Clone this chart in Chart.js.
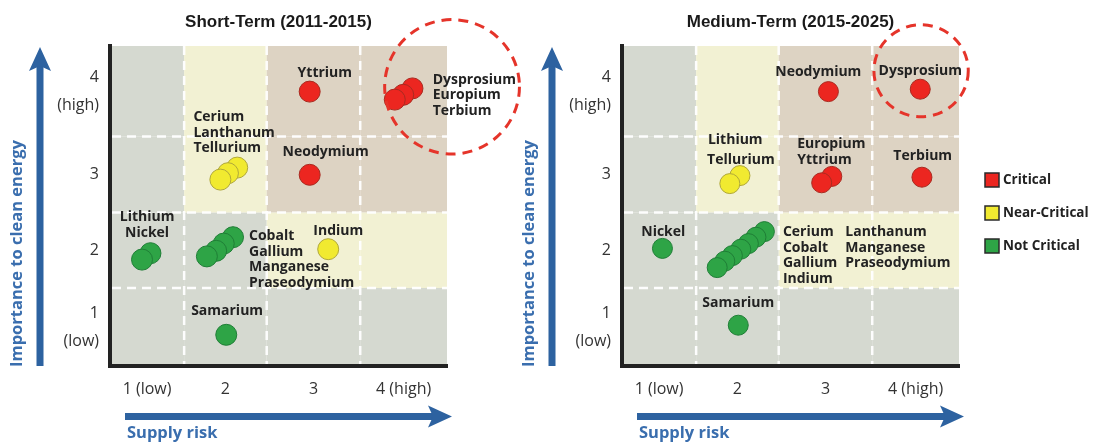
<!DOCTYPE html>
<html>
<head>
<meta charset="utf-8">
<script src="https://cdn.jsdelivr.net/npm/chart.js@4.4.1/dist/chart.umd.min.js"></script>
<style>
  html, body { margin: 0; padding: 0; background: #fff; }
  #wrap { position: relative; width: 1093px; height: 442px; overflow: hidden; }
  #shortChart { position: absolute; left: 0; top: 0; }
  #mediumChart { position: absolute; left: 512px; top: 0; }
</style>
</head>
<body>
<div id="wrap">
  <canvas id="shortChart" width="540" height="442" style="width:540px;height:442px"></canvas>
  <canvas id="mediumChart" width="581" height="442" style="width:581px;height:442px"></canvas>
</div>
<script>
// zone grid (both periods use the same matrix)
const zoneEdgesX = [0.5, 1.38, 2.36, 3.47, 4.5];
const zoneEdgesY = [0.5, 1.475, 2.42, 3.37, 4.5];
// rows bottom -> top, 0 = not critical, 1 = near-critical, 2 = critical
const zoneRows = [
  [0, 0, 0, 0],
  [0, 0, 1, 1],
  [0, 1, 2, 2],
  [0, 1, 2, 2]
];
const xTickLabels = ["1 (low)", "2", "3", "4 (high)"];
const yTickLabels = [["1", "(low)"], "2", "3", ["4", "(high)"]];
const seriesLabels = ["Critical", "Near-Critical", "Not Critical"];

// Short-Term (2011-2015)
const shortCriticalNames = ["Yttrium", "Terbium", "Europium", "Dysprosium", "Neodymium"];
const shortCriticalX = [2.87, 4.09, 3.98, 3.88, 2.87];
const shortCriticalY = [3.93, 3.97, 3.89, 3.83, 2.89];
const shortNearNames = ["Tellurium", "Lanthanum", "Cerium", "Indium"];
const shortNearX = [2.01, 1.90, 1.81, 3.09];
const shortNearY = [2.98, 2.91, 2.83, 1.96];
const shortNotNames = ["Nickel", "Lithium", "Praseodymium", "Manganese", "Gallium", "Cobalt", "Samarium"];
const shortNotX = [0.98, 0.88, 1.96, 1.85, 1.76, 1.65, 1.88];
const shortNotY = [1.91, 1.83, 2.11, 2.03, 1.94, 1.87, 0.89];

const shortLabelText = [["Yttrium"], ["Dysprosium", "Europium", "Terbium"], ["Cerium", "Lanthanum", "Tellurium"],
  ["Neodymium"], ["Indium"], ["Lithium", "Nickel"], ["Cobalt", "Gallium", "Manganese", "Praseodymium"], ["Samarium"]];
const shortLabelX = [3.05, 4.33, 1.49, 3.06, 3.21, 0.94, 2.15, 1.89];
const shortLabelY = [4.16, 4.08, 3.61, 3.18, 2.19, 2.36, 2.12, 1.19];
const shortLabelAlign = ["center", "left", "left", "center", "center", "center", "left", "center"];
const shortHighlight = { x: 4.56, y: 3.99, rx: 0.80, ry: 0.84 };

// Medium-Term (2015-2025)
const mediumCriticalNames = ["Neodymium", "Dysprosium", "Europium", "Yttrium", "Terbium"];
const mediumCriticalX = [2.95, 4.04, 2.99, 2.87, 4.06];
const mediumCriticalY = [3.93, 3.96, 2.87, 2.79, 2.86];
const mediumNearNames = ["Lithium", "Tellurium"];
const mediumNearX = [1.90, 1.78];
const mediumNearY = [2.88, 2.78];
const mediumNotNames = ["Nickel", "Praseodymium", "Manganese", "Lanthanum", "Indium", "Gallium", "Cobalt", "Cerium", "Samarium"];
const mediumNotX = [0.98, 2.19, 2.09, 2.00, 1.91, 1.81, 1.72, 1.63, 1.88];
const mediumNotY = [1.97, 2.18, 2.11, 2.03, 1.96, 1.88, 1.81, 1.73, 1.01];

const mediumLabelText = [["Neodymium"], ["Dysprosium"], ["Lithium"], ["Tellurium"], ["Europium", "Yttrium"], ["Terbium"],
  ["Nickel"], ["Cerium", "Cobalt", "Gallium", "Indium"], ["Lanthanum", "Manganese", "Praseodymium"], ["Samarium"]];
const mediumLabelX = [2.83, 4.04, 1.52, 1.51, 2.58, 3.72, 0.99, 2.41, 3.15, 1.88];
const mediumLabelY = [4.18, 4.19, 3.33, 3.07, 3.27, 3.12, 2.18, 2.17, 2.17, 1.29];
const mediumLabelAlign = ["center", "center", "left", "left", "left", "left", "center", "left", "left", "center"];
const mediumHighlight = { x: 4.05, y: 4.19, rx: 0.56, ry: 0.575 };

const zoneColors = ["#d5d9d0", "#f2f1d3", "#ddd3c3"];
const pointFill = ["#ec2620", "#f1ea30", "#2ea446"];
const pointLine = ["#a92a20", "#b0a83a", "#1f7e36"];
const blue = "#2d62a0";

function toPoints(names, xs, ys) {
  return names.map((n, i) => ({ x: xs[i], y: ys[i], name: n }));
}

function centers(edges) {
  let c = [];
  for (let i = 0; i < edges.length - 1; i++) c.push((edges[i] + edges[i + 1]) / 2);
  return c;
}

function drawArrow(ctx, x1, y1, x2, y2) {
  const ang = Math.atan2(y2 - y1, x2 - x1);
  const len = Math.hypot(x2 - x1, y2 - y1);
  ctx.save();
  ctx.translate(x1, y1);
  ctx.rotate(ang);
  ctx.fillStyle = blue;
  ctx.fillRect(0, -3.5, len - 18, 7);
  ctx.beginPath();
  ctx.moveTo(len, 0);
  ctx.lineTo(len - 24, -11);
  ctx.lineTo(len - 19, 0);
  ctx.lineTo(len - 24, 11);
  ctx.closePath();
  ctx.fill();
  ctx.restore();
}

function makeMatrixPlugin(cfg) {
  return {
    id: "matrix",
    beforeDraw(chart) {
      const { ctx, scales: { x, y } } = chart;
      ctx.save();
      for (let r = 0; r < zoneRows.length; r++) {
        for (let c = 0; c < zoneRows[r].length; c++) {
          const x0 = x.getPixelForValue(zoneEdgesX[c]);
          const x1 = x.getPixelForValue(zoneEdgesX[c + 1]);
          const y0 = y.getPixelForValue(zoneEdgesY[r + 1]);
          const y1 = y.getPixelForValue(zoneEdgesY[r]);
          ctx.fillStyle = zoneColors[zoneRows[r][c]];
          ctx.fillRect(x0, y0, x1 - x0, y1 - y0);
        }
      }
      ctx.restore();
    },
    beforeDatasetsDraw(chart) {
      const { ctx, chartArea: a, scales: { x, y } } = chart;
      ctx.save();
      ctx.strokeStyle = "rgba(255,255,255,0.95)";
      ctx.lineWidth = 2.5;
      ctx.setLineDash([9, 6]);
      for (let i = 1; i < zoneEdgesX.length - 1; i++) {
        const px = x.getPixelForValue(zoneEdgesX[i]);
        ctx.beginPath(); ctx.moveTo(px, a.top); ctx.lineTo(px, a.bottom - 2); ctx.stroke();
      }
      for (let i = 1; i < zoneEdgesY.length - 1; i++) {
        const py = y.getPixelForValue(zoneEdgesY[i]);
        ctx.beginPath(); ctx.moveTo(a.left + 2, py); ctx.lineTo(a.right, py); ctx.stroke();
      }
      ctx.restore();
    },
    afterDatasetsDraw(chart) {
      const { ctx, chartArea: a, scales: { x, y } } = chart;
      ctx.save();
      // element labels
      ctx.font = "bold 14px 'Open Sans'";
      ctx.fillStyle = "#222";
      ctx.textBaseline = "middle";
      cfg.labelText.forEach((lines, i) => {
        const px = x.getPixelForValue(cfg.labelX[i]);
        const py = y.getPixelForValue(cfg.labelY[i]);
        ctx.textAlign = cfg.labelAlign[i];
        lines.forEach((t, j) => ctx.fillText(t, px, py + j * 15.5));
      });
      // highlight ring
      const h = cfg.highlight;
      const cx = x.getPixelForValue(h.x), cy = y.getPixelForValue(h.y);
      const rx = Math.abs(x.getPixelForValue(h.x + h.rx) - cx);
      const ry = Math.abs(y.getPixelForValue(h.y + h.ry) - cy);
      ctx.strokeStyle = "#e5342a";
      ctx.lineWidth = 3;
      ctx.setLineDash([10, 7]);
      ctx.beginPath();
      ctx.ellipse(cx, cy, rx, ry, 0, 0, Math.PI * 2);
      ctx.stroke();
      ctx.setLineDash([]);
      // title
      ctx.font = "bold 17px 'Liberation Sans'";
      ctx.fillStyle = "#1a1a1a";
      ctx.textAlign = "center";
      ctx.fillText(cfg.title, (a.left + a.right) / 2, 22);
      // axis arrows and titles
      drawArrow(ctx, a.left - 70, a.bottom, a.left - 70, a.top + 1);
      drawArrow(ctx, a.left + 15, a.bottom + 50.5, a.right + 5, a.bottom + 50.5);
      ctx.fillStyle = "#3a6eae";
      ctx.font = "bold 16.5px 'Open Sans'";
      ctx.textAlign = "left";
      ctx.fillText("Supply risk", a.left + 17, a.bottom + 67);
      ctx.save();
      ctx.translate(a.left - 93, a.bottom + 1);
      ctx.rotate(-Math.PI / 2);
      ctx.fillText("Importance to clean energy", 0, 0);
      ctx.restore();
      // legend
      if (cfg.legend) {
        const lx = a.right + 26;
        chart.data.datasets.forEach((ds, i) => {
          const ly = a.top + 134 + i * 33;
          ctx.fillStyle = ds.backgroundColor;
          ctx.fillRect(lx, ly - 7, 14, 14);
          ctx.strokeStyle = "#2a2a2a";
          ctx.lineWidth = 1.5;
          ctx.strokeRect(lx, ly - 7, 14, 14);
          ctx.fillStyle = "#222";
          ctx.font = "bold 13.5px 'Open Sans'";
          ctx.fillText(ds.label, lx + 18, ly);
        });
      }
      ctx.restore();
    }
  };
}

function makeChart(id, cfg) {
  const ctx = document.getElementById(id).getContext("2d");
  const sets = [cfg.critical, cfg.near, cfg.not];
  return new Chart(ctx, {
    type: "scatter",
    data: {
      datasets: sets.map((pts, i) => ({
        label: seriesLabels[i],
        data: pts,
        backgroundColor: pointFill[i],
        borderColor: pointLine[i],
        borderWidth: 1,
        pointRadius: cfg.radius,
        pointHoverRadius: cfg.radius
      }))
    },
    options: {
      responsive: false,
      animation: false,
      events: [],
      layout: { padding: { top: 46, right: cfg.padRight, bottom: 0, left: 0 } },
      plugins: { legend: { display: false }, tooltip: { enabled: false }, title: { display: false } },
      scales: {
        x: {
          type: "linear", min: 0.5, max: 4.5,
          afterBuildTicks: axis => { axis.ticks = centers(zoneEdgesX).map(v => ({ value: v })); },
          afterFit: axis => { axis.height = 76; },
          grid: { display: false, drawTicks: false, tickLength: 0 },
          border: { display: true, color: "#222", width: 4 },
          ticks: {
            autoSkip: false, maxRotation: 0, padding: 14, color: "#333",
            font: { family: "'Open Sans'", size: 16 },
            callback: (v, i) => xTickLabels[i]
          }
        },
        y: {
          type: "linear", min: 0.5, max: 4.5,
          afterBuildTicks: axis => { axis.ticks = centers(zoneEdgesY).map(v => ({ value: v })); },
          afterFit: axis => { axis.width = 110; },
          grid: { display: false, drawTicks: false, tickLength: 0 },
          border: { display: true, color: "#222", width: 4 },
          ticks: {
            autoSkip: false, padding: 11, color: "#333",
            font: { family: "'Open Sans'", size: 16, lineHeight: 1.75 },
            callback: (v, i) => yTickLabels[i]
          }
        }
      }
    },
    plugins: [makeMatrixPlugin(cfg)]
  });
}

makeChart("shortChart", {
  title: "Short-Term (2011-2015)",
  critical: toPoints(shortCriticalNames, shortCriticalX, shortCriticalY),
  near: toPoints(shortNearNames, shortNearX, shortNearY),
  not: toPoints(shortNotNames, shortNotX, shortNotY),
  labelText: shortLabelText, labelX: shortLabelX, labelY: shortLabelY, labelAlign: shortLabelAlign,
  highlight: shortHighlight,
  radius: 10.5, padRight: 93, legend: false
});

makeChart("mediumChart", {
  title: "Medium-Term (2015-2025)",
  critical: toPoints(mediumCriticalNames, mediumCriticalX, mediumCriticalY),
  near: toPoints(mediumNearNames, mediumNearX, mediumNearY),
  not: toPoints(mediumNotNames, mediumNotX, mediumNotY),
  labelText: mediumLabelText, labelX: mediumLabelX, labelY: mediumLabelY, labelAlign: mediumLabelAlign,
  highlight: mediumHighlight,
  radius: 10, padRight: 134, legend: true
});
</script>
</body>
</html>
